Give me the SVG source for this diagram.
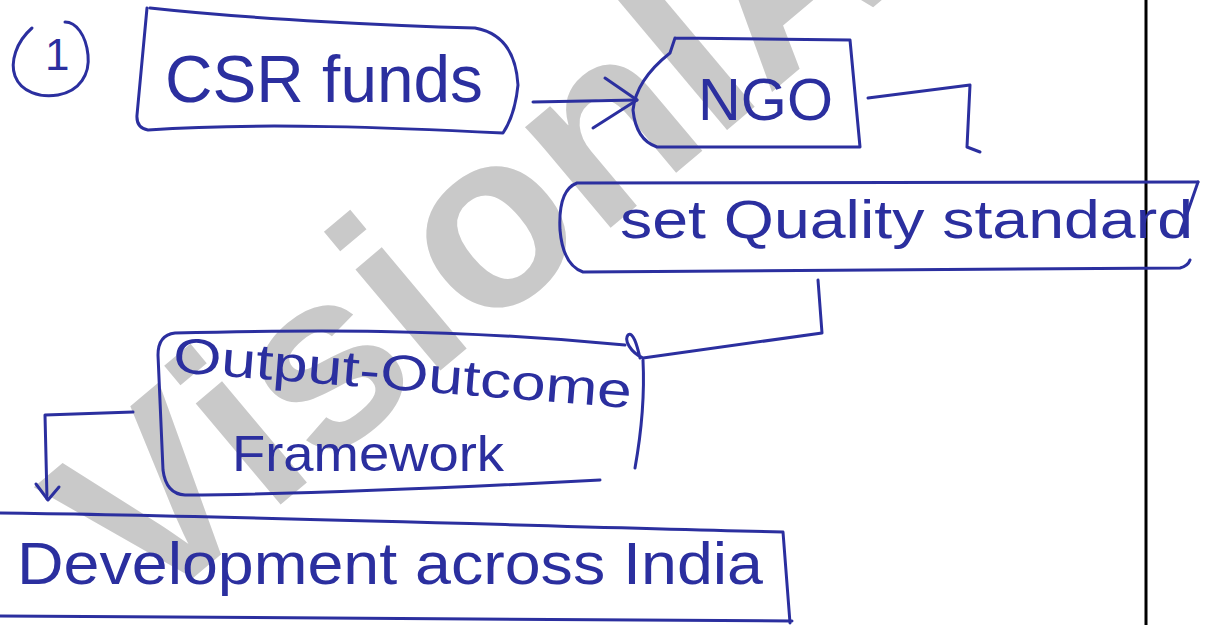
<svg xmlns="http://www.w3.org/2000/svg" width="1210" height="625" viewBox="0 0 1210 625">
<style>
.ink{fill:none;stroke:#2b2f9f;stroke-width:3;stroke-linecap:round;stroke-linejoin:round}
.lbl{font-family:"Liberation Sans",Arial,sans-serif;fill:#2b2f9f}
.wm{font-family:"Liberation Sans",Arial,sans-serif;font-weight:bold;fill:#c9c9c9}
</style>
<rect width="1210" height="625" fill="#ffffff"/>
<text class="wm" x="143" y="620" font-size="250" transform="rotate(-40 143 620)">VisionIAS</text>
<line x1="1146" y1="0" x2="1146" y2="625" stroke="#000000" stroke-width="3"/>
<g id="marker">
<path class="ink" d="M32,28 C16,42 10,62 15,76 C21,92 40,98 58,95 C80,91 90,74 88,55 C86,35 76,22 65,22"/>
<text class="lbl" x="45" y="70" font-size="44">1</text>
</g>
<g id="csr">
<path class="ink" d="M150,8 C260,20 400,26 475,28 Q515,35 518,85 Q515,115 503,133 C400,128 260,122 148,130 Q136,128 137,115 L147,8"/>
<text class="lbl" x="165" y="102" font-size="66" textLength="318" lengthAdjust="spacingAndGlyphs">CSR funds</text>
</g>
<g id="ngo">
<path class="ink" d="M675,38 L850,40 L860,147 L657,147 Q636,140 633,110 Q636,80 670,53 L675,38"/>
<text class="lbl" x="698" y="120" font-size="60" textLength="135" lengthAdjust="spacingAndGlyphs">NGO</text>
</g>
<g id="quality">
<path class="ink" d="M1198,182 L577,183 Q558,190 560,230 Q563,265 583,272 L1180,268 Q1188,266 1190,260"/>
<path class="ink" d="M1198,182 L1180,234"/>
<text class="lbl" x="620" y="238" font-size="54" textLength="573" lengthAdjust="spacingAndGlyphs">set Quality standard</text>
</g>
<g id="framework">
<path class="ink" d="M625,345 C450,328 300,330 175,333 Q158,335 158,355 L163,470 Q166,494 185,495 C300,494 450,488 600,480"/>
<path class="ink" d="M643,360 C645,400 640,440 635,468"/>
<text class="lbl" x="172" y="372" font-size="50" textLength="460" lengthAdjust="spacingAndGlyphs" transform="rotate(4.5 172 372)">Output-Outcome</text>
<text class="lbl" x="232" y="471" font-size="50" textLength="272" lengthAdjust="spacingAndGlyphs">Framework</text>
</g>
<g id="development">
<path class="ink" d="M0,513 C200,515 500,525 783,532 L790,623"/>
<path class="ink" d="M0,616 L792,621"/>
<text class="lbl" x="17" y="584" font-size="60" textLength="746" lengthAdjust="spacingAndGlyphs">Development across India</text>
</g>
<g id="connectors">
<path class="ink" d="M533,102 L637,100"/>
<path class="ink" d="M605,78 L637,100 L593,128"/>
<path class="ink" d="M868,98 L970,85 L967,147 L980,152"/>
<path class="ink" d="M818,280 L822,333 L643,358 C630,352 624,340 628,335 C633,331 637,345 640,358"/>
<path class="ink" d="M133,412 L45,415 L47,499"/>
<path class="ink" d="M36,484 L48,500 L59,487"/>
</g>
</svg>
